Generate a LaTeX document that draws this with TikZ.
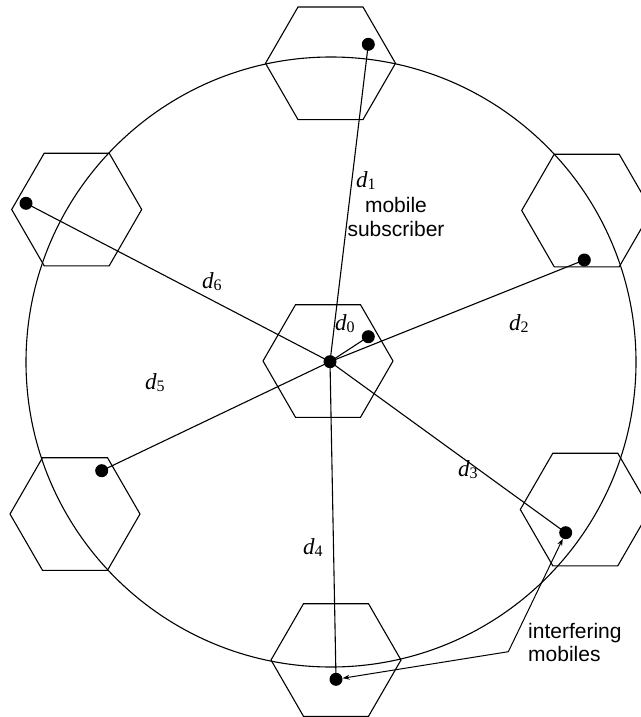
\documentclass[tikz,border=0pt]{standalone}
\usepackage{fontspec}
\setmainfont{Liberation Serif}
\newfontfamily\labfont{Liberation Sans}
\usetikzlibrary{arrows.meta}
\tikzset{
  dot/.style={circle, fill=black, draw=none, minimum size=13pt, inner sep=0pt},
  link/.style={line width=1.1pt, black},
  hexline/.style={line width=1.1pt, black, line join=miter},
  dlab/.style={anchor=base west, inner sep=0pt},
  sanslab/.style={inner sep=0pt, font=\labfont\fontsize{21}{23.5}\selectfont, align=center},
  tip/.style={line width=1pt, {Stealth[length=7pt,width=5pt,open]}-{Stealth[length=7pt,width=5pt,open]}}
}
\newcommand{\dsub}[1]{{\fontsize{23}{25}\selectfont\itshape d}\raisebox{-0.45ex}{\fontsize{16}{16}\selectfont\upshape #1}}
\begin{document}
\begin{tikzpicture}[x=1pt,y=-1pt]
\useasboundingbox (0,0) rectangle (640,717);
% big circle
\draw[hexline] (331,362) circle[radius=305];
% hexagons
\foreach \cx/\cy in {328/361, 330.5/63.3, 586.7/210.5, 585.3/509.5, 336/660, 75/514, 76.7/209.5}{
  \draw[hexline] (\cx+65,\cy) -- (\cx+32.5,\cy+56.3) -- (\cx-32.5,\cy+56.3) -- (\cx-65,\cy)
     -- (\cx-32.5,\cy-56.3) -- (\cx+32.5,\cy-56.3) -- cycle;
}
% dots
\node[dot] (c) at (330,361.7) {};
\node[dot] (m0) at (368.3,336.7) {};
\node[dot] (m1) at (368.3,44.3) {};
\node[dot] (m2) at (584.3,260) {};
\node[dot] (m3) at (565.7,532.7) {};
\node[dot] (m4) at (336,679.3) {};
\node[dot] (m5) at (101.7,470.7) {};
\node[dot] (m6) at (26,203.3) {};
% connectors
\foreach \m in {m0,m1,m2,m3,m4,m5,m6}{
  \draw[link] (c.center) -- (\m.center);
}
% labels
\node[dlab] (l0) at (335,330) {\dsub{0}};
\node[dlab] (l1) at (356,187) {\dsub{1}};
\node[dlab] (l2) at (509,330) {\dsub{2}};
\node[dlab] (l3) at (458,476) {\dsub{3}};
\node[dlab] (l4) at (303,554) {\dsub{4}};
\node[dlab] (l5) at (145,389) {\dsub{5}};
\node[dlab] (l6) at (202,288) {\dsub{6}};
\node[sanslab] (ms) at (396,217) {mobile\\subscriber};
\node[sanslab, align=left, anchor=base west] (im) at (528,661.7) {interfering\\mobiles};
% arrows
\coordinate (k) at (508.3,651.7);
\draw[tip] (m3) -- (k) -- (m4);
\end{tikzpicture}
\end{document}
